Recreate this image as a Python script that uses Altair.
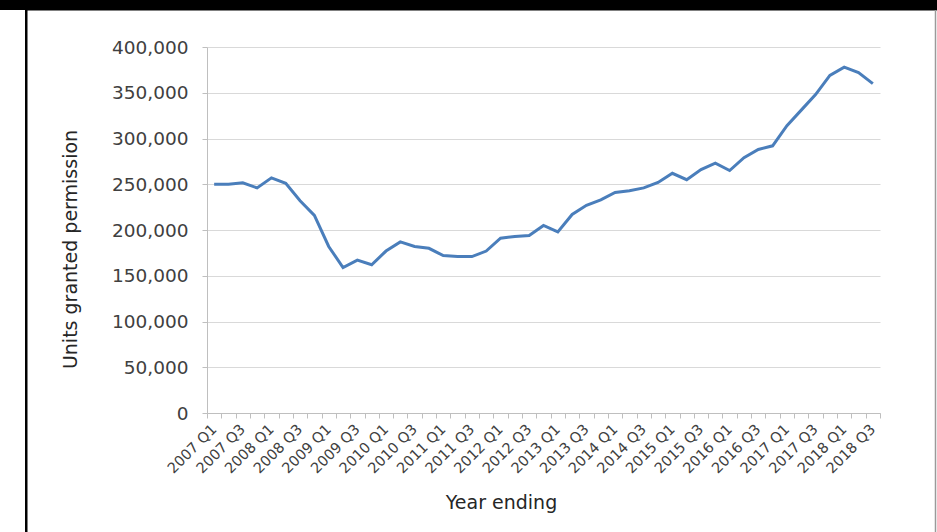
import altair as alt
import pandas as pd

years = list(range(2007, 2019))
quarters = [f"{y} Q{q}" for y in years for q in range(1, 5)][:47]

units = [250000, 250000, 251500, 246000, 257000, 251000, 232000, 216000, 182000, 159000,
         167000, 162000, 177000, 187000, 182000, 180000, 172000, 171000, 171000, 177000,
         191000, 193000, 194000, 205000, 198000, 217000, 227000, 233000, 241000, 243000,
         246000, 252000, 262000, 255000, 266000, 273000, 265000, 279000, 288000, 292000,
         314000, 331000, 348000, 369000, 378000, 372000, 360000]

y_ticks = [0, 50000, 100000, 150000, 200000, 250000, 300000, 350000, 400000]

df = pd.DataFrame({"quarter": quarters, "units": units})

FONT = "DejaVu Sans"
W, H = 673, 366
PL, PT, PR, PB = 207, 47, 57, 119

line = alt.Chart(df).mark_line(color="#4a7ebb", strokeWidth=3).encode(
    x=alt.X("quarter:O", sort=quarters, bandPosition=0.5,
            scale=alt.Scale(type="band", paddingInner=0, paddingOuter=0),
            axis=alt.Axis(title="Year ending", labelAngle=-45, labelAlign="right",
                          labelBaseline="middle", labelPadding=9, labelOverlap=False,
                          labelExpr="test(/Q[24]/, datum.label) ? '' : datum.label",
                          labelFont=FONT, labelFontSize=14.5, labelColor="#404040",
                          tickBand="extent", tickSize=5, tickColor="#bfbfbf",
                          domainColor="#bfbfbf", grid=False,
                          titleFont=FONT, titleFontSize=19, titleFontWeight="normal",
                          titleColor="#262626", titleX=294, titleY=95,
                          titleBaseline="alphabetic", titleAlign="center")),
    y=alt.Y("units:Q", scale=alt.Scale(domain=[0, 400000], nice=False),
            axis=alt.Axis(title="Units granted permission", values=y_ticks, format=",d",
                          labelFont=FONT, labelFontSize=18.5, labelColor="#404040",
                          labelPadding=14, tickSize=5, tickColor="#bfbfbf",
                          domainColor="#bfbfbf", gridColor="#d9d9d9",
                          titleFont=FONT, titleFontSize=19, titleFontWeight="normal",
                          titleColor="#262626", titleX=-137, titleY=202,
                          titleAngle=-90, titleAlign="center", titleBaseline="middle")),
)

one = pd.DataFrame({"a": [0]})

band = alt.Chart(one).mark_rect(color="black").encode(
    x=alt.value(-PL), x2=alt.value(W + PR), y=alt.value(-PT), y2=alt.value(-PT + 10))
band_edge = alt.Chart(one).mark_rule(color="#808080", strokeWidth=1).encode(
    x=alt.value(-PL + 26), x2=alt.value(W + PR), y=alt.value(-PT + 10.5))
left_border = alt.Chart(one).mark_rect(color="black").encode(
    x=alt.value(-PL + 25), x2=alt.value(-PL + 27.5), y=alt.value(-PT), y2=alt.value(H + PB))
right_border = alt.Chart(one).mark_rule(color="#9a9a9a", strokeWidth=1.5).encode(
    x=alt.value(W + PR - 1.5), y=alt.value(-PT + 10), y2=alt.value(H + PB))

chart = alt.layer(line, band, band_edge, left_border, right_border).properties(
    width=W, height=H,
    padding={"left": PL, "top": PT, "right": PR, "bottom": PB},
    autosize=alt.AutoSizeParams(type="none"),
    background="white",
).configure_view(stroke=None)

chart.save("out.html", embed_options={"renderer": "svg", "actions": False})
